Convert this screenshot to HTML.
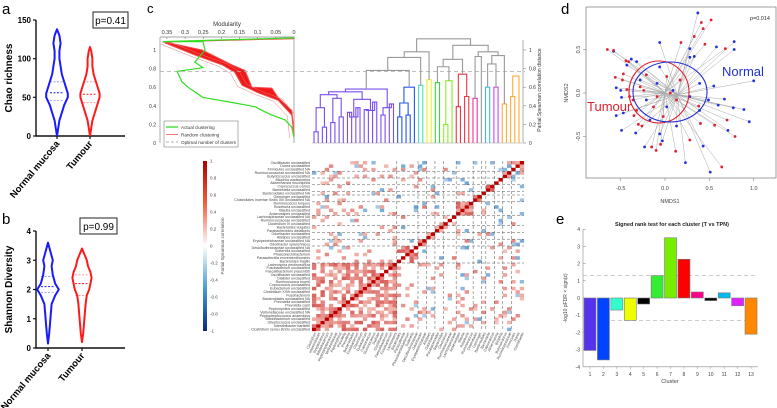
<!DOCTYPE html>
<html><head><meta charset="utf-8">
<style>
html,body{margin:0;padding:0;background:#fff;}
svg{display:block;font-family:"Liberation Sans",Arial,sans-serif;}
</style></head>
<body>
<svg id="fig" width="777" height="408" viewBox="0 0 777 408" xmlns="http://www.w3.org/2000/svg">
<text x="2" y="14" font-size="15">a</text>
<text x="2" y="224" font-size="15">b</text>
<text x="147" y="13" font-size="13">c</text>
<text x="561" y="14" font-size="15">d</text>
<text x="556" y="224" font-size="15">e</text>
</svg>
<script>
// ---------- DATA ----------
const chaoNormVals=[0,10,20,30,40,50,55,60,70,80,90,100,110,120,130,138];
const chaoNormW=[0,1,2,4,6,9,9,8,6,4,3,2,2,3,2,0];
const chaoNormQ=[46,56,70];
const chaoTumVals=[0,10,20,30,40,50,55,60,70,80,90,100,110,115];
const chaoTumW=[0,1,2,4,6,8,8,7,5,3,2,2,1,0];
const chaoTumQ=[43,54,70];
const chaoTicks=[0,50,100,150];
const shNormVals=[0.15,0.5,1,1.5,1.8,2,2.2,2.5,2.8,3,3.3,3.6];
const shNormW=[0,1,2,3,6,9,6,4,3,4,2,0];
const shNormQ=[1.9,2.1,2.45];
const shTumVals=[0.2,0.5,1,1.5,1.8,2,2.2,2.4,2.6,2.8,3,3.2,3.4];
const shTumW=[0,1,2,3,4,6,7,8,7,5,4,2,0];
const shTumQ=[1.8,2.2,2.5];
const shTicks=[0,1,2,3,4];
const modTicks=[0.35,0.3,0.25,0.2,0.15,0.1,0.05,0];
const distTicks=[0,0.2,0.4,0.6,0.8,1];
const greenMod=[0,0.361,0.251,0.245,0.273,0.251,0.322,0.309,0.292,0.251,0.163,0.107,0.088,0.061,0.025,0.006,0];
const greenH=[1.13,1.09,1.09,1.0,0.87,0.81,0.77,0.66,0.6,0.49,0.43,0.39,0.35,0.30,0.25,0.17,0.06];
const redUpMod=[0.355,0.253,0.171,0.135,0.116,0.061,0.044,0.006,0];
const redUpH=[1.086,1.0,0.84,0.78,0.6,0.59,0.49,0.35,0.11];
const redLoMod=[0.355,0.273,0.198,0.163,0.143,0.099,0.044,0.006,0];
const redLoH=[1.075,0.946,0.84,0.76,0.62,0.54,0.46,0.3,0.065];
const optimalH=0.77;
const clusterSizes=[20,5,2,2,2,3,4,2,1,2,2,2,3];
const clusterColors=['#7a4df0','#2255ee','#44e0c0','#eeee22','#33dd33','#88ee22','#ee3344','#ee3399','#999999','#33bbee','#cc44ee','#ffaa33','#ffaa33'];
const clusterHeights=[
 [0.12,0.17,0.22,0.28,0.33,0.38,0.36,0.44,0.3,0.42,0.38,0.48,0.28,0.35,0.38,0.52,0.47,0.55,0.58],
 [0.28,0.3,0.43,0.6],[0.62],[0.68],[0.65],[0.2,0.67],[0.39,0.5,0.74],[0.48],[],[0.6],[0.6],[0.42],[0.5,0.72]];
const topMerges=[[0,1,0.78],[13,2,0.92],[14,3,0.98],[4,5,0.82],[16,6,0.9],[7,8,0.93],[9,10,0.85],[19,11,0.94],[18,20,0.98],[17,21,1.05],[15,22,1.12]];
const corrTicks=[1,0.8,0.6,0.4,0.2,0,-0.2,-0.4,-0.6,-0.8,-1];
const taxa=["Clostridium sensu stricto unclassified","Intestinibacter bartlettii","Streptococcus unclassified","Bifidobacterium unclassified","Peptostreptococcus anaerobius","Veillonellaceae unclassified NA","Peptoniphilus unclassified","Prevotella copri","Prevotella unclassified","Bacteroidales unclassified NA","Fusobacterium","Clostridium XIVb unclassified","Eubacterium unclassified","Coprococcus unclassified","Ruminococcus bromii","Dialister unclassified","Oscillibacter unclassified","Faecalibacterium prausnitzii","Fusobacterium unclassified","Lachnospira pectinoschiza","Bacteroides fragilis","Parasutterella excrementihominis","Phascolarctobacterium","Sutterella unclassified","Desulfovibrionaceae unclassified NA","Odoribacter splanchnicus","Erysipelotrichaceae unclassified NA","Alistipes unclassified","Odoribacter unclassified","Parabacteroides distasonis","Bacteroides vulgatus","Clostridium IV unclassified","Ruminococcaceae unclassified","Lachnospiraceae unclassified NA","Anaerostipes unclassified","Blautia unclassified","Roseburia unclassified","Ruminococcus torques","Clostridiales Incertae Sedis XIII unclassified NA","Gemmiger unclassified","Bacteroidales unclassified NA","Barnesiella unclassified","Coprococcus comes","Akkermansia muciniphila","Bilophila wadsworthia","Butyricicoccus unclassified","Ruminococcaceae unclassified NA","Firmicutes unclassified NA","Dorea unclassified","Oscillibacter unclassified"];
const normX=[0.37,-0.58,0.78,0.78,0.58,-0.06,0.28,0.33,0.28,-0.38,-0.32,-0.43,-0.5,-0.55,-0.49,1.0,0.55,0.67,0.77,0.89,0.6,0.95,0.71,0.43,0.51,0.23,-0.49,-0.33,-0.23,-0.06,-0.03,-0.55,-0.47,0.13,0.39,0.28,0.09,-0.09,-0.21,-0.28,0.02,-0.17,-0.06,0.39,0.49];
const normY=[0.92,0.48,0.59,0.5,0.53,0.58,0.51,0.42,0.41,0.39,0.36,0.32,0.03,0.06,-0.05,0.14,0.08,-0.07,-0.17,-0.19,-0.14,-0.33,-0.43,-0.61,-0.91,-0.8,-0.43,-0.46,-0.62,-0.47,-0.55,-0.26,-0.23,-0.38,-0.2,-0.04,0.03,0.11,-0.08,0.15,-0.16,-0.31,0.3,0.11,-0.08];
const tumX=[-0.65,-0.58,-0.44,-0.41,0.41,0.52,0.43,0.33,0.18,0.45,0.68,-0.47,-0.56,-0.48,-0.43,-0.4,-0.36,-0.32,-0.35,-0.3,-0.26,-0.15,-0.1,-0.05,0.12,0.38,0.4,0.56,0.79,0.7,0.64,0.28,-0.09,-0.24,0.02,0.17,-0.13,-0.02,0.13,-0.21,-0.28,0.06];
const tumY=[0.5,0.49,0.37,0.36,0.81,0.84,0.74,0.65,0.58,0.56,0.51,0.22,0.18,0.15,0.04,-0.04,-0.08,-0.2,-0.26,-0.36,-0.38,-0.62,-0.66,-0.59,-0.67,-0.15,-0.35,-0.37,-0.5,-0.31,-0.85,-0.54,-0.04,0.03,0.19,0.15,-0.16,-0.27,-0.08,0.21,0.07,0.0];
const nmdsTicks=[-0.5,0,0.5,1];
const nmdsYTicks=[-0.5,0,0.5];
const clusters=[1,2,3,4,5,6,7,8,9,10,11,12,13];
const signedLogP=[-3.05,-3.6,-0.7,-1.3,-0.35,1.3,3.5,2.25,0.35,-0.15,0.3,-0.45,-2.1];
const barColors=['#5533ee','#0044ff','#33ffcc','#eeff00','#000000','#33ee33','#77ee00','#ff0000','#ff0088','#000000','#00bbee','#dd22ff','#ff8800'];
const eTicks=[-4,-3,-2,-1,0,1,2,3,4];
const sigLevel=1.3;

// ---------- helpers ----------
const NS='http://www.w3.org/2000/svg';
const svg=document.getElementById('fig');
function mk(tag,attrs,parent){const e=document.createElementNS(NS,tag);for(const k in attrs)e.setAttribute(k,attrs[k]);(parent||svg).appendChild(e);return e;}
function txt(s,attrs,parent){const e=mk('text',attrs,parent);e.textContent=s;return e;}
function grp(name){const g=mk('g',{});
return g;}

// ---------- violin panels ----------
function violinPanel(pfx,yTop,yBot,vmax,ticks,ylabel,ptext,pbox,series){
  const g=grp(pfx+'-panel');
  const ys=v=>yBot-(v/vmax)*(yBot-yTop);
  const ax=mk('path',{d:`M36 ${yTop} V${yBot} H125`,stroke:'#111','stroke-width':1.4,fill:'none'},g);
  
  
  ticks.forEach(t=>{mk('line',{x1:33,x2:36,y1:ys(t),y2:ys(t),stroke:'#111','stroke-width':1.2},g);
    const l=txt(String(t),{x:31,y:ys(t)+3,'font-size':8,'font-weight':'bold','text-anchor':'end'},g);
    
    });
  const yl=txt(ylabel,{x:0,y:0,'font-size':10,'font-weight':'bold','text-anchor':'middle',transform:`translate(12 ${(yTop+yBot)/2}) rotate(-90)`},g);
  
  
  const b=mk('rect',{x:pbox[0],y:pbox[1],width:pbox[2],height:16,fill:'#fff',stroke:'#222','stroke-width':1},g);
  
  
  const pt=txt(ptext,{x:pbox[0]+pbox[2]/2,y:pbox[1]+12,'font-size':10,'text-anchor':'middle'},g);
  
  
  series.forEach(s=>{
    let L='',R='';
    s.vals.forEach((v,i)=>{L+=(i?'L':'M')+(s.cx-s.w[i]*1.2)+' '+ys(v)+' ';});
    for(let i=s.vals.length-1;i>=0;i--){R+='L'+(s.cx+s.w[i]*1.2)+' '+ys(s.vals[i])+' ';}
    const p=mk('path',{d:L+R+'Z',fill:'none',stroke:s.col,'stroke-width':2,'stroke-linejoin':'round'},g);
    
    
    s.q.forEach((q,qi)=>{mk('line',{x1:s.cx-7,x2:s.cx+7,y1:ys(q),y2:ys(q),stroke:s.col,'stroke-width':qi==1?1:0.7,'stroke-dasharray':'2 1.5',opacity:qi==1?1:0.6},g);});
    mk('line',{x1:s.cx,x2:s.cx,y1:yBot,y2:yBot+3,stroke:'#111','stroke-width':1.2},g);
    const xl=txt(s.label,{x:0,y:0,'font-size':9.5,'font-weight':'bold','text-anchor':'end',transform:`translate(${s.cx+3} ${yBot+8}) rotate(-50)`},g);
    
    
  });
}
violinPanel('chao',20,136,150,chaoTicks,'Chao richness','p=0.41',[93,12,35],[
 {vals:chaoNormVals,w:chaoNormW,q:chaoNormQ,cx:57,col:'#1a1aff',label:'Normal mucosa',name:'normal'},
 {vals:chaoTumVals,w:chaoTumW,q:chaoTumQ,cx:90,col:'#ff1a1a',label:'Tumour',name:'tumour'}]);
violinPanel('shannon',231,348,4,shTicks,'Shannon Diversity','p=0.99',[80,218,37],[
 {vals:shNormVals,w:shNormW,q:shNormQ,cx:48,col:'#1a1aff',label:'Normal mucosa',name:'normal'},
 {vals:shTumVals,w:shTumW,q:shTumQ,cx:82,col:'#ff1a1a',label:'Tumour',name:'tumour'}]);

// ---------- panel c: modularity ----------
(function(){
  const g=grp('modularity-plot');
  const xm=m=>294-m*363, yh=h=>143-h*93;
  mk('path',{d:`M160 37 H294 V143`,stroke:'#888','stroke-width':0.7,fill:'none'},g);
  mk('line',{x1:160,x2:160,y1:37,y2:143,stroke:'#888','stroke-width':0.7},g);
  modTicks.forEach(t=>{mk('line',{x1:xm(t),x2:xm(t),y1:37,y2:39,stroke:'#666','stroke-width':0.5},g);
    const l=txt(String(t),{x:xm(t),y:34,'font-size':5.5,'text-anchor':'middle',fill:'#333'},g);
    
    });
  const t=txt('Modularity',{x:227,y:26,'font-size':6,'text-anchor':'middle',fill:'#333'},g);
  
  
  distTicks.forEach(d=>{const l=txt(String(d),{x:156,y:yh(d)+2,'font-size':5,'text-anchor':'end',fill:'#333'},g);
    
    });
  let d='';redUpMod.forEach((m,i)=>{d+=(i?'L':'M')+xm(m)+' '+yh(redUpH[i])+' ';});
  for(let i=redLoMod.length-1;i>=0;i--)d+='L'+xm(redLoMod[i])+' '+yh(redLoH[i])+' ';
  const band=mk('path',{d:d+'Z',fill:'#f01818',stroke:'#f05050','stroke-width':1,'stroke-linejoin':'round'},g);
  
  
  [-0.012,0.012].forEach(off=>{let dd='';redLoMod.forEach((m,i)=>{dd+=(i?'L':'M')+xm(Math.max(0,m+off))+' '+yh(redLoH[i]-off)+' ';});
    mk('path',{d:dd,fill:'none',stroke:'#e77','stroke-width':0.5},g);});
  mk('line',{x1:xm(0),x2:xm(0.363),y1:yh(1.12),y2:yh(1.085),stroke:'#e44','stroke-width':0.7},g);
  let gd='';greenMod.forEach((m,i)=>{gd+=(i?'L':'M')+xm(m)+' '+yh(greenH[i])+' ';});
  const gl=mk('path',{d:gd,fill:'none',stroke:'#33dd22','stroke-width':1.2},g);
  
  
  const opt=mk('line',{x1:160,x2:525,y1:yh(optimalH),y2:yh(optimalH),stroke:'#aaa','stroke-width':0.8,'stroke-dasharray':'4 3'},g);
  
  
  const lg=mk('g',{},g);
  
  
  mk('rect',{x:164,y:121,width:74,height:26,fill:'#fff',stroke:'#666','stroke-width':0.5},lg);
  [['Actual clustering','#33dd22',1.3,''],['Random clustering','#e55',0.8,''],['Optimal number of clusters','#999',0.8,'3 2']].forEach((r,i)=>{
    mk('line',{x1:166,x2:178,y1:127+i*7.5,y2:127+i*7.5,stroke:r[1],'stroke-width':r[2],'stroke-dasharray':r[3]},lg);
    txt(r[0],{x:181,y:129+i*7.5,'font-size':4.6,fill:'#333'},lg);});
})();

// ---------- dendrogram ----------
(function(){
  const g=grp('dendrogram');
  const yh=h=>143-h*93;
  const N=50, x0=314, dx=(519-314)/(N-1);
  mk('line',{x1:523,x2:523,y1:40,y2:143,stroke:'#777','stroke-width':0.6},g);
  distTicks.forEach(d=>{mk('line',{x1:523,x2:526,y1:yh(d),y2:yh(d),stroke:'#777','stroke-width':0.5},g);
    const l=txt(String(d),{x:529,y:yh(d)+2,'font-size':5,fill:'#333'},g);
    
    });
  const at=txt('Partial Spearman correlation distance',{x:0,y:0,'font-size':5,'text-anchor':'middle',fill:'#333',transform:'translate(541 90) rotate(-90)'},g);
  
  
  mk('line',{x1:312,x2:522,y1:143,y2:143,stroke:'#999','stroke-width':0.5},g);
  const link=(a,b,h,col)=>{mk('path',{d:`M${a.x} ${yh(a.h)} V${yh(h)} H${b.x} V${yh(b.h)}`,fill:'none',stroke:col,'stroke-width':1.1},g);return {x:(a.x+b.x)/2,h:h};};
  const tops=[];let li=0;
  clusterSizes.forEach((n,c)=>{
    const leaves=[];for(let k=0;k<n;k++){leaves.push({x:x0+dx*(li++),h:0});}
    const col=clusterColors[c];const hs=clusterHeights[c];
    let nodes=leaves.slice(),hi=0;
    while(nodes.length>1){
      const nxt=[];
      for(let k=0;k<nodes.length;k+=2){
        if(k+1<nodes.length){nxt.push(link(nodes[k],nodes[k+1],hs[Math.min(hi++,hs.length-1)]??0.3,col));}
        else nxt.push(nodes[k]);
      }
      nodes=nxt;
    }
    tops.push(nodes[0]);
  });
  topMerges.forEach(m=>{tops.push(link(tops[m[0]],tops[m[1]],m[2],'#999'));});
})();

// ---------- heatmap ----------
(function(){
  const g=grp('correlation-heatmap');
  const N=50,X0=312,Y0=161,W=212,H=170,cw=W/N,ch=H/N;
  const cl=[];clusterSizes.forEach((n,c)=>{for(let k=0;k<n;k++)cl.push(c);});
  const hash=(i,j)=>{let h=(i*73856093)^(j*19349663)^((i+j)*83492791);h=(h^(h>>>13))*1274126177;h=h^(h>>>16);return ((h>>>0)%1000)/1000;};
  function col(v){ if(v>0){const t=Math.min(1,v);const r=Math.round(255-t*60),gg=Math.round(230-t*210),b=Math.round(220-t*200);return `rgb(${r},${gg},${b})`;}
    const t=Math.min(1,-v);return `rgb(${Math.round(200-t*190)},${Math.round(225-t*130)},${Math.round(240-t*60)})`;}
  for(let i=0;i<N;i++)for(let j=0;j<N;j++){
    let v=0;
    if(i===j)v=1.0;
    else{const a=Math.min(i,j),b=Math.max(i,j);const r=hash(a,b);
      if(cl[i]===cl[j]){ if(r<0.65)v=0.2+0.45*hash(b,a);}
      else if(cl[i]===0||cl[j]===0){ if(r<0.22)v=(hash(b,a)<0.8?1:-1)*(0.15+0.3*hash(a+1,b));}
      else if(r<0.13)v=(hash(b,a)<0.5?1:-1)*(0.15+0.35*hash(a+1,b));
    }
    if(v===0)continue;
    const x=X0+j*cw, y=Y0+H-(i+1)*ch;
    mk('rect',{x:x,y:y,width:cw+0.1,height:ch+0.1,fill:i===j?'#c00000':col(v)},g);
  }
  let acc=0;clusterSizes.slice(0,-1).forEach(n=>{acc+=n;
    mk('line',{x1:X0+acc*cw,x2:X0+acc*cw,y1:Y0,y2:Y0+H,stroke:'#555','stroke-width':0.5,'stroke-dasharray':'3 2'},g);
    mk('line',{x1:X0,x2:X0+W,y1:Y0+H-acc*ch,y2:Y0+H-acc*ch,stroke:'#555','stroke-width':0.5,'stroke-dasharray':'3 2'},g);});
  for(let i=0;i<N;i++){const l=txt(taxa[i],{x:X0-2,y:Y0+H-i*ch-0.6,'font-size':3.6,'text-anchor':'end',fill:'#444'},g);
    
    }
  for(let j=0;j<N;j++){const name=taxa[j].split(' ')[0];const l=txt(name,{x:0,y:0,'font-size':3.6,'text-anchor':'end',fill:'#444',transform:`translate(${X0+j*cw+cw} ${Y0+H+2}) rotate(-65)`},g);
    
    }
  const cb=mk('g',{},svg);
  
  
  const defs=mk('defs',{},cb);const lgd=mk('linearGradient',{id:'cbg',x1:0,y1:0,x2:0,y2:1},defs);
  [['0','#b00000'],['0.25','#f06040'],['0.5','#ffffff'],['0.75','#4a9ad0'],['1','#0a2a80']].forEach(s=>mk('stop',{offset:s[0],'stop-color':s[1]},lgd));
  mk('rect',{x:203,y:161,width:4,height:170,fill:'url(#cbg)'},cb);
  corrTicks.forEach(t=>{const y=161+(1-t)/2*170;txt(String(t),{x:210,y:y+1.5,'font-size':4.5,fill:'#444'},cb);});
  txt('Partial Spearman correlation',{x:0,y:0,'font-size':4.5,'text-anchor':'middle',fill:'#555',transform:'translate(224 246) rotate(-90)'},cb);
})();

// ---------- panel d: NMDS ----------
(function(){
  const g=grp('nmds-plot');
  const xs=v=>665+v*88.7, ys=v=>93-v*87;
  const fr=mk('rect',{x:586,y:7,width:190,height:171,fill:'none',stroke:'#777','stroke-width':0.7},g);
  
  
  nmdsTicks.forEach(t=>{mk('line',{x1:xs(t),x2:xs(t),y1:178,y2:181,stroke:'#777','stroke-width':0.5},g);
    const l=txt(t.toFixed(1),{x:xs(t),y:190,'font-size':5.5,'text-anchor':'middle',fill:'#444'},g);
    
    });
  nmdsYTicks.forEach(t=>{mk('line',{x1:583,x2:586,y1:ys(t),y2:ys(t),stroke:'#777','stroke-width':0.5},g);
    const l=txt(t.toFixed(1),{x:0,y:0,'font-size':5.5,'text-anchor':'middle',fill:'#444',transform:`translate(580 ${ys(t)}) rotate(-90)`},g);
    
    });
  const x1=txt('NMDS1',{x:670,y:203,'font-size':5.5,'text-anchor':'middle',fill:'#444'},g);
  
  
  const y1=txt('NMDS2',{x:0,y:0,'font-size':5.5,'text-anchor':'middle',fill:'#444',transform:'translate(568 93) rotate(-90)'},g);
  
  
  const mean=a=>a.reduce((s,v)=>s+v,0)/a.length;
  const nc=[mean(normX),mean(normY)], tc=[mean(tumX),mean(tumY)];
  normX.forEach((x,i)=>mk('line',{x1:xs(x),y1:ys(normY[i]),x2:xs(nc[0]),y2:ys(nc[1]),stroke:'#aaa','stroke-width':0.5},g));
  tumX.forEach((x,i)=>mk('line',{x1:xs(x),y1:ys(tumY[i]),x2:xs(tc[0]),y2:ys(tc[1]),stroke:'#aaa','stroke-width':0.5},g));
  normX.forEach((x,i)=>{const c=mk('circle',{cx:xs(x),cy:ys(normY[i]),r:1.4,fill:'#2233dd'},g);
    
    });
  tumX.forEach((x,i)=>{const c=mk('circle',{cx:xs(x),cy:ys(tumY[i]),r:1.4,fill:'#dd2233'},g);
    
    });
  const re=mk('ellipse',{cx:659,cy:92,rx:30,ry:31,fill:'none',stroke:'#e02030','stroke-width':1.1},g);
  
  
  const be=mk('ellipse',{cx:670,cy:92,rx:37,ry:30,fill:'none',stroke:'#2030d0','stroke-width':1.1},g);
  
  
  const nt=txt('Normal',{x:722,y:76,'font-size':13,fill:'#2030d0'},g);
  
  
  const tt=txt('Tumour',{x:587,y:111,'font-size':13,fill:'#e02030'},g);
  
  
  const pv=txt('p=0.014',{x:770,y:20,'font-size':5.5,'text-anchor':'end',fill:'#333'},g);
  
  
})();

// ---------- panel e: bars ----------
(function(){
  const g=grp('signed-rank-bar-chart');
  const ys=v=>298-v*17.2, xs=c=>590+(c-1)*13.42;
  const ti=txt('Signed rank test for each cluster (T vs TPN)',{x:672,y:226,'font-size':5.5,'font-weight':'bold','text-anchor':'middle',fill:'#222'},g);
  
  
  mk('line',{x1:583,x2:583,y1:ys(4),y2:ys(-4),stroke:'#888','stroke-width':0.6},g);
  mk('line',{x1:583,x2:758,y1:ys(-4),y2:ys(-4),stroke:'#888','stroke-width':0.6},g);
  eTicks.forEach(t=>{mk('line',{x1:583,x2:586,y1:ys(t),y2:ys(t),stroke:'#888','stroke-width':0.5},g);
    const l=txt(String(t),{x:580,y:ys(t)+2,'font-size':5,'text-anchor':'end',fill:'#444'},g);
    
    });
  [sigLevel,-sigLevel].forEach(s=>{const l=mk('line',{x1:583,x2:758,y1:ys(s),y2:ys(s),stroke:'#bbb','stroke-width':0.8,'stroke-dasharray':'4 3'},g);
    
    });
  clusters.forEach((c,i)=>{const v=signedLogP[i];
    const r=mk('rect',{x:xs(c)-6,y:Math.min(ys(v),ys(0)),width:12,height:Math.max(0.8,Math.abs(ys(v)-ys(0))),fill:barColors[i],stroke:'#777','stroke-width':0.6},g);
    
    
    mk('line',{x1:xs(c),x2:xs(c),y1:ys(-4),y2:ys(-4)+2,stroke:'#888','stroke-width':0.5},g);
    const l=txt(String(c),{x:xs(c),y:ys(-4)+9,'font-size':5,'text-anchor':'middle',fill:'#444'},g);
    
    });
  const xt=txt('Cluster',{x:670,y:383,'font-size':5.5,'text-anchor':'middle',fill:'#444'},g);
  
  
  const yt=txt('-log10 pFDR × sign(z)',{x:0,y:0,'font-size':5,'text-anchor':'middle',fill:'#444',transform:`translate(567 ${ys(0)}) rotate(-90)`},g);
  
  
})();
</script>
</body></html>
